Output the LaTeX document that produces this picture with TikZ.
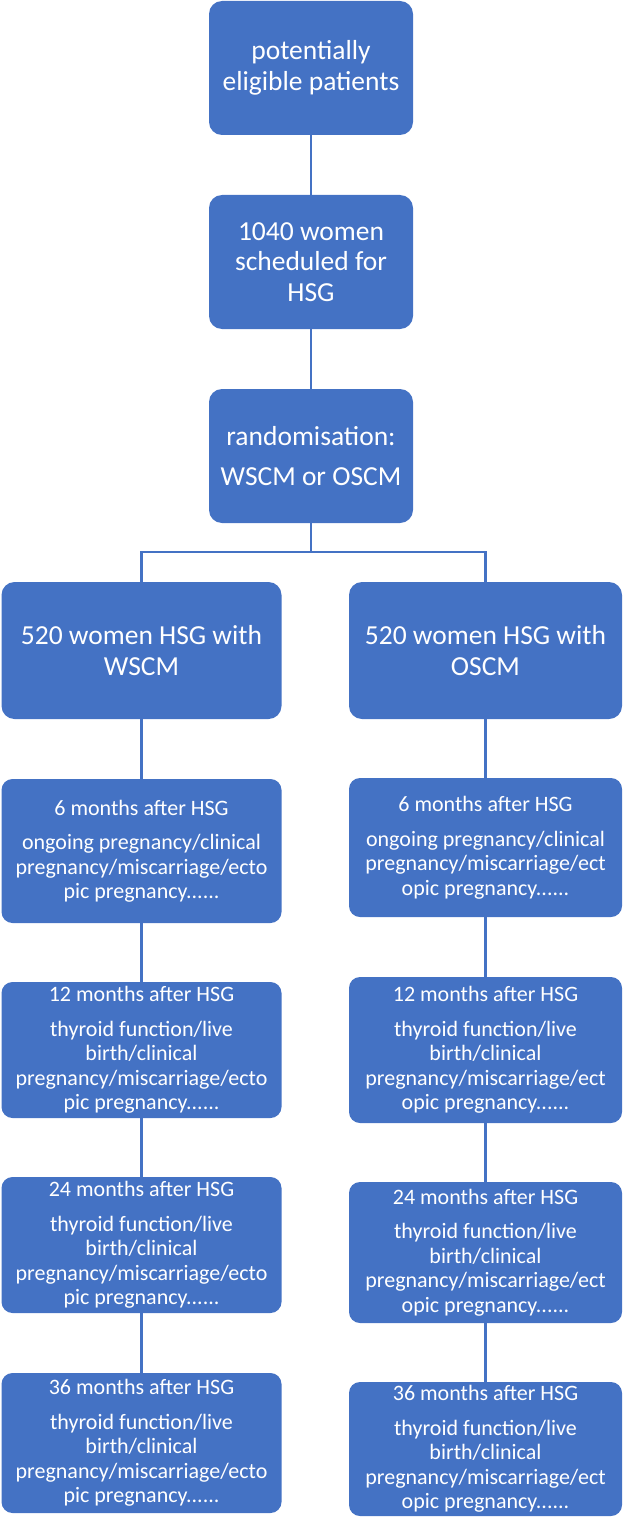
\documentclass[tikz,border=0pt]{standalone}
\usepackage{fontspec}
\setmainfont{Carlito}
\usepackage{xcolor}
\usepackage{tikz}
\usetikzlibrary{positioning}
\definecolor{boxblue}{HTML}{4472C4}

\begin{document}
\begin{tikzpicture}[on grid,
    every node/.style={rectangle,fill=boxblue,text=white,align=center,inner sep=2pt},
    mainbox/.style={rounded corners=13pt,minimum width=204pt,minimum height=134pt,
      font=\fontsize{27.5}{30.5}\selectfont},
    armbox/.style={rounded corners=13pt,minimum height=137pt,
      font=\fontsize{27.5}{30.5}\selectfont},
    visitbox/.style={rounded corners=11pt,font=\fontsize{22}{24.5}\selectfont},
    leftbox/.style={minimum width=280pt},
    rightbox/.style={minimum width=273pt},
    link/.style={draw=boxblue,line width=2.5pt}]
    \useasboundingbox (0,0) rectangle (623pt,-1517pt);
    \node[mainbox] (A) at (311pt,-68pt) {potentially\\eligible patients};
    \node[mainbox,below=194pt of A] (B) {1040 women\\scheduled for\\HSG};
    \node[mainbox,below=194pt of B] (C) {randomisation:\\[10pt]WSCM or OSCM};
    \node[armbox,leftbox,below left=194.5pt and 169.5pt of C] (W) {520 women HSG with\\WSCM};
    \node[armbox,rightbox,below right=194.5pt and 174.5pt of C] (O) {520 women HSG with\\OSCM};
    %left arm
    \node[visitbox,leftbox,minimum height=144pt,below=200.5pt of W] (W6)
      {6 months after HSG\\[10pt]ongoing pregnancy/clinical\\pregnancy/miscarriage/ecto\\pic pregnancy......};
    \node[visitbox,leftbox,minimum height=136pt,below=199pt of W6] (W12)
      {12 months after HSG\\[10pt]thyroid function/live\\birth/clinical\\pregnancy/miscarriage/ecto\\pic pregnancy......};
    \node[visitbox,leftbox,minimum height=136pt,below=195pt of W12] (W24)
      {24 months after HSG\\[10pt]thyroid function/live\\birth/clinical\\pregnancy/miscarriage/ecto\\pic pregnancy......};
    \node[visitbox,leftbox,minimum height=140pt,below=198pt of W24] (W36)
      {36 months after HSG\\[10pt]thyroid function/live\\birth/clinical\\pregnancy/miscarriage/ecto\\pic pregnancy......};
    %right arm
    \node[visitbox,rightbox,minimum height=139pt,below=197pt of O] (O6)
      {6 months after HSG\\[10pt]ongoing pregnancy/clinical\\pregnancy/miscarriage/ect\\opic pregnancy......};
    \node[visitbox,rightbox,minimum height=146pt,below=202.5pt of O6] (O12)
      {12 months after HSG\\[10pt]thyroid function/live\\birth/clinical\\pregnancy/miscarriage/ect\\opic pregnancy......};
    \node[visitbox,rightbox,minimum height=141pt,below=202.5pt of O12] (O24)
      {24 months after HSG\\[10pt]thyroid function/live\\birth/clinical\\pregnancy/miscarriage/ect\\opic pregnancy......};
    \node[visitbox,rightbox,minimum height=134pt,below=196.5pt of O24] (O36)
      {36 months after HSG\\[10pt]thyroid function/live\\birth/clinical\\pregnancy/miscarriage/ect\\opic pregnancy......};
    \draw[link] (A) -- (B);
    \draw[link] (B) -- (C);
    \draw[link] (C.south) -- ++(0,-29pt) -| (W.north);
    \draw[link] (C.south) -- ++(0,-29pt) -| (O.north);
    \draw[link] (W) -- (W6);
    \draw[link] (W6) -- (W12);
    \draw[link] (W12) -- (W24);
    \draw[link] (W24) -- (W36);
    \draw[link] (O) -- (O6);
    \draw[link] (O6) -- (O12);
    \draw[link] (O12) -- (O24);
    \draw[link] (O24) -- (O36);
\end{tikzpicture}
\end{document}
